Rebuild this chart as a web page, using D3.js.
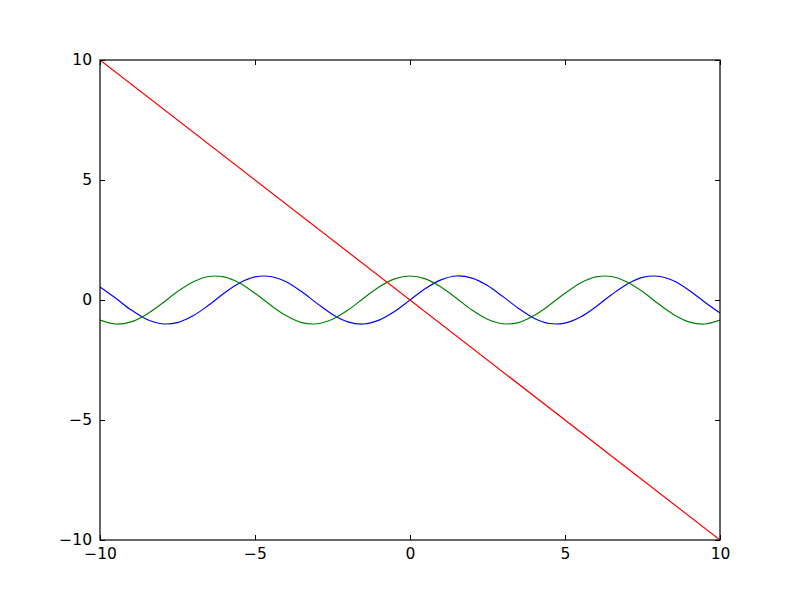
<!DOCTYPE html>
<html><head><meta charset="utf-8">
<script src="https://cdn.jsdelivr.net/npm/d3@7"></script>
<style>body{margin:0;background:#fff}svg{display:block}</style>
</head><body>
<script>
const xs = [-10,-9.5,-9,-8.5,-8,-7.5,-7,-6.5,-6,-5.5,-5,-4.5,-4,-3.5,-3,-2.5,-2,-1.5,-1,-0.5,0,0.5,1,1.5,2,2.5,3,3.5,4,4.5,5,5.5,6,6.5,7,7.5,8,8.5,9,9.5,10];
const blueY = [0.54,0.08,-0.41,-0.80,-0.99,-0.94,-0.66,-0.22,0.28,0.71,0.96,0.98,0.76,0.35,-0.14,-0.60,-0.91,-1.00,-0.84,-0.48,0,0.48,0.84,1.00,0.91,0.60,0.14,-0.35,-0.76,-0.98,-0.96,-0.71,-0.28,0.22,0.66,0.94,0.99,0.80,0.41,-0.08,-0.54];
const greenY = [-0.84,-1.00,-0.91,-0.60,-0.15,0.35,0.75,0.98,0.96,0.71,0.28,-0.21,-0.65,-0.94,-0.99,-0.80,-0.42,0.07,0.54,0.88,1.00,0.88,0.54,0.07,-0.42,-0.80,-0.99,-0.94,-0.65,-0.21,0.28,0.71,0.96,0.98,0.75,0.35,-0.15,-0.60,-0.91,-1.00,-0.84];
const redX = [-10,10];
const redY = [10,-10];
const xTicks = [-10,-5,0,5,10];
const yTicks = [-10,-5,0,5,10];

const W=800,H=600, L=100,R=720,T=60,B=540;
const svg=d3.select("body").append("svg").attr("width",W).attr("height",H);
const x=d3.scaleLinear().domain([-10,10]).range([L,R]);
const y=d3.scaleLinear().domain([-10,10]).range([B,T]);
const fmt=d=>d<0?"\u2212"+Math.abs(d):String(d);
const font="DejaVu Sans", fs=15.5, tl=5;

const clip=svg.append("clipPath").attr("id","c").append("rect").attr("x",L).attr("y",T).attr("width",R-L).attr("height",B-T);
const g=svg.append("g").attr("clip-path","url(#c)");
const line=d3.line().x(d=>x(d[0])).y(d=>y(d[1])).curve(d3.curveCatmullRom);
g.append("path").datum(xs.map((v,i)=>[v,blueY[i]])).attr("d",line).attr("fill","none").attr("stroke","#0000ff").attr("stroke-width",1.2);
g.append("path").datum(xs.map((v,i)=>[v,greenY[i]])).attr("d",line).attr("fill","none").attr("stroke","#008000").attr("stroke-width",1.2);
g.append("path").datum(redX.map((v,i)=>[v,redY[i]])).attr("d",d3.line().x(d=>x(d[0])).y(d=>y(d[1]))).attr("fill","none").attr("stroke","#ff0000").attr("stroke-width",1.2);

// axes
const ax=d3.axisBottom(x).tickValues(xTicks).tickFormat(fmt).tickSizeInner(-tl).tickSizeOuter(0).tickPadding(8);
const axT=d3.axisTop(x).tickValues(xTicks).tickFormat("").tickSizeInner(-tl).tickSizeOuter(0);
const ay=d3.axisLeft(y).tickValues(yTicks).tickFormat(fmt).tickSizeInner(-tl).tickSizeOuter(0).tickPadding(8);
const ayR=d3.axisRight(y).tickValues(yTicks).tickFormat("").tickSizeInner(-tl).tickSizeOuter(0);
function style(sel){sel.select(".domain").remove();sel.selectAll("line").attr("stroke","#000");sel.selectAll("text").attr("font-family",font).attr("font-size",fs).attr("fill","#000");}
svg.append("g").attr("transform",`translate(0,${B})`).call(ax).call(style);
svg.append("g").attr("transform",`translate(0,${T})`).call(axT).call(style);
svg.append("g").attr("transform",`translate(${L},0)`).call(ay).call(style);
svg.append("g").attr("transform",`translate(${R},0)`).call(ayR).call(style);
svg.append("rect").attr("x",L).attr("y",T).attr("width",R-L).attr("height",B-T).attr("fill","none").attr("stroke","#000").attr("stroke-width",1.2);
</script>
</body></html>
